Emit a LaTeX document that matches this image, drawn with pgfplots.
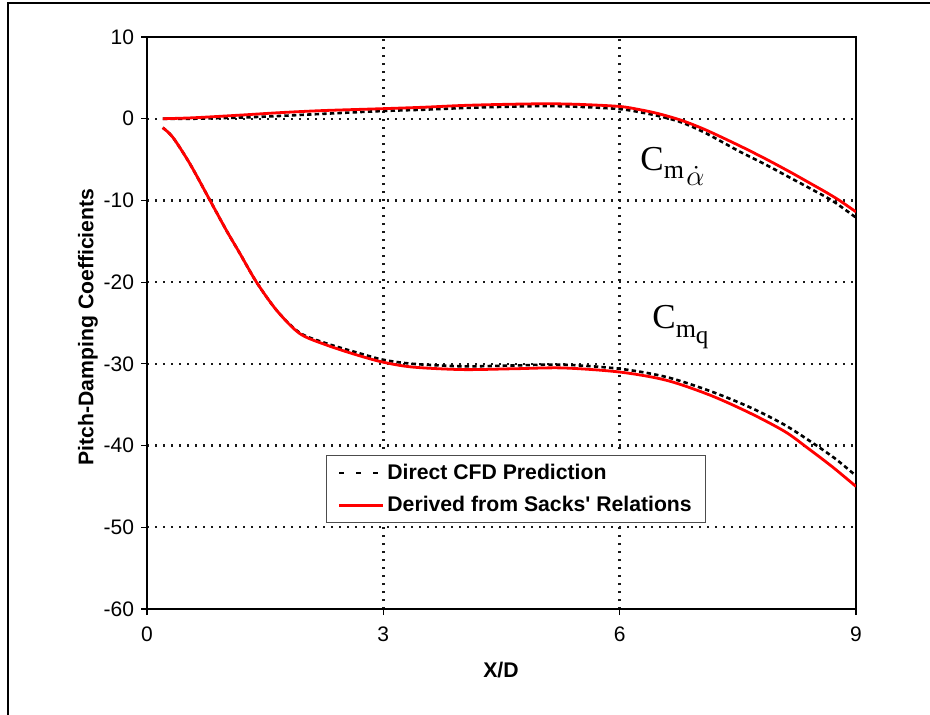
\documentclass[border=0pt]{standalone}
\usepackage{pgfplots}
\pgfplotsset{compat=1.18}
\usepackage{fontspec}
\setmainfont{Liberation Sans}
\newfontfamily\timesfont{Liberation Serif}
\begin{document}
\begin{tikzpicture}
\begin{scope}[x=0.5pt,y=0.5pt]
\useasboundingbox (0,0) rectangle (930,714);
\draw[line width=1.1pt] (8,-20) -- (8,711) -- (950,711);
\end{scope}
\begin{axis}[
  at={(73.5pt,52.5pt)}, anchor=south west,
  scale only axis, width=354.5pt, height=286pt,
  xmin=0, xmax=9, ymin=-60, ymax=10,
  xtick={0,3,6,9}, ytick={-60,-50,...,10},
  grid=major,
  major grid style={black!90, line width=1.2pt, dash pattern=on 1.2pt off 2.8pt},
  axis line style={line width=1.3pt},
  tick align=outside, tick pos=left, major tick length=3pt,
  tick style={black, line width=0.6pt},
  ticklabel style={font=\fontsize{10.5}{12}\selectfont},
  xticklabel style={yshift=-2.5pt},
  /pgf/number format/assume math mode=true,
  legend cell align=left,
  legend style={at={(0.2525,0.150)}, anchor=south west,
    draw=black!70, line width=0.6pt,
    font=\bfseries\fontsize{10.6}{12.5}\selectfont,
    inner xsep=5.5pt, inner ysep=2.6pt,
    nodes={inner sep=1.5pt}, row sep=3.9pt, column sep=0pt},
]
\addplot[black, line width=1.3pt, dash pattern=on 2.2pt off 1.6pt, smooth, tension=0.5,
  legend image code/.code={\draw[black,line width=1.3pt,dash pattern=on 2.5pt off 6pt] (0pt,0pt) -- (22pt,0pt);}]
coordinates {(0.2,0) (0.6,0.0) (1.2,0.15) (1.6,0.3) (2.24,0.6) (2.96,0.93) (3.5,1.1) (4.0,1.3) (4.5,1.45) (5.07,1.55) (5.5,1.45) (6.0,1.18) (6.3,0.72) (6.55,0.2) (6.8,-0.5) (7.1,-1.8) (7.52,-4.0) (7.85,-5.6) (8.16,-7.2) (8.45,-8.7) (8.71,-10.1) (9.0,-12.1)};
\addlegendentry{Direct CFD Prediction}
\addplot[red, line width=1.4pt, smooth, tension=0.5,
  legend image code/.code={\draw[red,line width=1.4pt] (0pt,0pt) -- (22pt,0pt);}]
coordinates {(0.2,0.0) (0.6,0.12) (1.2,0.45) (1.7,0.75) (2.24,1.0) (2.96,1.22) (3.5,1.4) (4.0,1.62) (4.5,1.75) (5.07,1.83) (5.5,1.75) (6.0,1.5) (6.26,1.1) (6.5,0.6) (6.8,-0.25) (7.1,-1.4) (7.52,-3.3) (7.85,-4.9) (8.16,-6.5) (8.4,-7.8) (8.62,-9.0) (8.79,-10.0) (9.0,-11.4)};
\addlegendentry{Derived from Sacks\textquotesingle{} Relations}
\addplot[black, line width=1.3pt, dash pattern=on 2.2pt off 1.6pt, smooth, tension=0.5, forget plot]
coordinates {(0.2,-1.1) (0.33,-2.3) (0.55,-5.6) (0.80,-10) (1.01,-13.7) (1.18,-16.5) (1.39,-20) (1.65,-23.5) (1.94,-26.2) (2.28,-27.5) (2.66,-28.6) (3.0,-29.5) (3.38,-30.0) (4.01,-30.3) (4.65,-30.2) (5.28,-30.1) (6.0,-30.6) (6.59,-31.6) (7.14,-33.3) (7.65,-35.3) (8.1,-37.5) (8.5,-40.0) (8.75,-41.7) (9.0,-43.7)};
\addplot[red, line width=1.4pt, smooth, tension=0.5, forget plot]
coordinates {(0.2,-1.1) (0.33,-2.3) (0.55,-5.6) (0.80,-10) (1.01,-13.7) (1.18,-16.5) (1.39,-20) (1.65,-23.5) (1.94,-26.3) (2.28,-27.7) (2.66,-28.9) (3.0,-29.8) (3.38,-30.4) (4.01,-30.7) (4.65,-30.6) (5.28,-30.5) (6.0,-31.0) (6.59,-32.0) (7.14,-33.8) (7.65,-36.0) (8.1,-38.3) (8.4,-40.4) (8.7,-42.6) (9.0,-45.0)};
\end{axis}
\begin{scope}[x=0.5pt,y=0.5pt]
\node[anchor=base west, inner sep=0pt] at (640,544) {\timesfont\fontsize{17.5}{20}\selectfont C\raisebox{-4pt}{\fontsize{13}{15}\selectfont m\kern1.2pt\raisebox{-3.5pt}{\fontsize{15}{17}\selectfont$\dot{\alpha}$}}};
\node[anchor=base west, inner sep=0pt] at (652,386) {\timesfont\fontsize{17.5}{20}\selectfont C\raisebox{-4.5pt}{\fontsize{13}{15}\selectfont m\raisebox{-3pt}{\fontsize{12.5}{14}\selectfont q}}};
\node[font=\bfseries\fontsize{10.6}{12.5}\selectfont] at (501,44) {X/D};
\node[font=\bfseries\fontsize{10.6}{12.5}\selectfont, rotate=90] at (88,387) {Pitch-Damping Coefficients};
\end{scope}
\end{tikzpicture}
\end{document}
